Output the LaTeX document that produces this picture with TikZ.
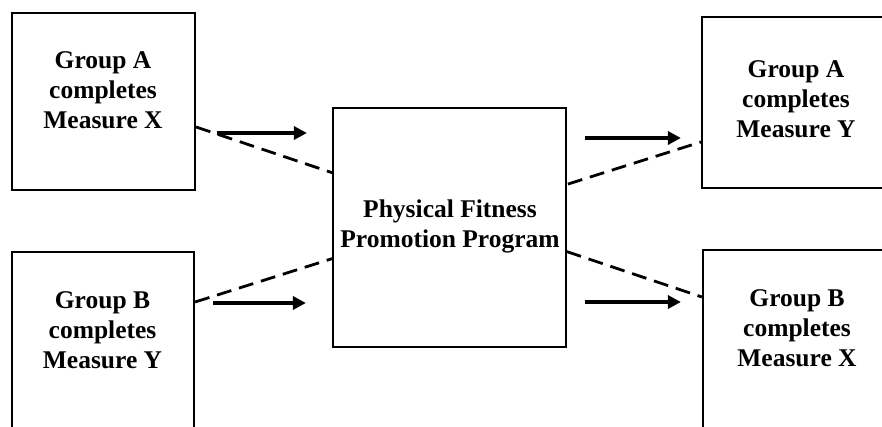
\documentclass[tikz,border=0pt]{standalone}
\usepackage{fontspec}
\setmainfont{Liberation Serif}
\usetikzlibrary{arrows.meta}
\tikzset{
  boxnode/.style={draw, line width=2.2pt, fill=white, rectangle, inner sep=0pt},
  txtnode/.style={font=\bfseries\fontsize{25.5}{30}\selectfont, align=center, anchor=base, inner sep=0pt},
  arr/.style={line width=3.4pt, -{Triangle[length=13pt,width=13pt]}},
  dashline/.style={line width=2.8pt, dash pattern=on 15pt off 8pt}
}
\begin{document}
\begin{tikzpicture}[x=1pt,y=-1pt]
\useasboundingbox (0,0) rectangle (882,426);
\clip (0,0) rectangle (882,426);
% boxes
\node[boxnode, minimum width=183pt, minimum height=177pt] (boxA) at (103.5,101.5) {};
\node[boxnode, minimum width=182pt, minimum height=188pt] (boxB) at (103,346) {};
\node[boxnode, minimum width=198pt, minimum height=171pt] (boxAR) at (801,102.5) {};
\node[boxnode, minimum width=197pt, minimum height=190pt] (boxBR) at (801.5,345) {};
% dashed lines (behind centre box)
\draw[dashline] (boxA.east |- 0,127) -- (boxBR.west |- 0,297);
\draw[dashline] (boxB.east |- 0,302) -- (boxAR.west |- 0,142);
% centre box
\node[boxnode, minimum width=233pt, minimum height=239pt] (prog) at (449.5,227.5) {};
% texts (anchor base = baseline of the last line)
\node[txtnode] (tA) at (103,128) {Group A\\completes\\Measure X};
\node[txtnode] (tB) at (102.5,368) {Group B\\completes\\Measure Y};
\node[txtnode] (tP) at (450,247) {Physical Fitness\\Promotion Program};
\node[txtnode] (tAR) at (796,137) {Group A\\completes\\Measure Y};
\node[txtnode] (tBR) at (797,366) {Group B\\completes\\Measure X};
% arrows
\draw[arr, shorten <=21pt, shorten >=25pt] (boxA.east |- 0,133) -- (prog.west |- 0,133);
\draw[arr, shorten <=18pt, shorten >=26pt] (boxB.east |- 0,303) -- (prog.west |- 0,303);
\draw[arr, shorten <=18pt, shorten >=20pt] (prog.east |- 0,138) -- (boxAR.west |- 0,138);
\draw[arr, shorten <=18pt, shorten >=21pt] (prog.east |- 0,302) -- (boxBR.west |- 0,302);
\end{tikzpicture}
\end{document}
